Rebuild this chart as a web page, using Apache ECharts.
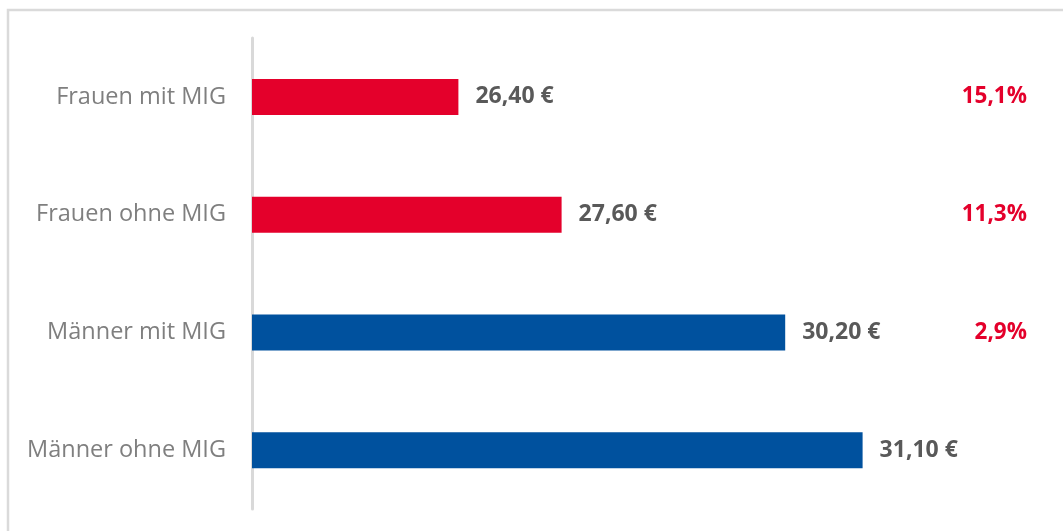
<!DOCTYPE html>
<html>
<head>
<meta charset="utf-8">
<script src="https://cdn.jsdelivr.net/npm/echarts@6/dist/echarts.min.js"></script>
<style>
  html, body { margin: 0; padding: 0; background: #fff; }
  #chart { width: 1063px; height: 531px; }
</style>
</head>
<body>
<div id="chart"></div>
<script>
// Stundenlohn nach Geschlecht und Migrationshintergrund
const categories = ['Frauen mit MIG', 'Frauen ohne MIG', 'Männer mit MIG', 'Männer ohne MIG']
const wages = [26.40, 27.60, 30.20, 31.10]
const gaps = ['15,1%', '11,3%', '2,9%', '']
const barColors = ['#e4002b', '#e4002b', '#00519e', '#00519e']

const chart = echarts.init(document.getElementById('chart'))

const fmtEuro = (v) => v.toFixed(2).replace('.', ',') + ' €'

chart.setOption({
  animation: false,
  textStyle: { fontFamily: '"Open Sans", sans-serif' },
  graphic: [{
    type: 'rect',
    shape: { x: 8, y: 10, width: 1100, height: 560 },
    style: { fill: 'none', stroke: '#dadada', lineWidth: 2.5 },
    silent: true,
  }],
  grid: { left: 252, right: 37, top: 38, bottom: 22 },
  xAxis: {
    type: 'value',
    min: 24,
    max: 33,
    show: false,
  },
  yAxis: [{
    type: 'category',
    data: categories,
    inverse: true,
    axisLine: { show: true, lineStyle: { color: '#d9d9d9', width: 3 } },
    axisTick: { show: false },
    axisLabel: { color: '#7f7f7f', fontSize: 23.5, margin: 26 },
  }, {
    type: 'category',
    data: gaps,
    inverse: true,
    position: 'right',
    axisLine: { show: false },
    axisTick: { show: false },
    axisLabel: { inside: true, margin: -1, color: '#e4002b', fontSize: 22.5, fontWeight: 'bold' },
  }],
  series: [{
    type: 'bar',
    barWidth: 36,
    data: wages.map((v, i) => ({ value: v, itemStyle: { color: barColors[i] } })),
    label: {
      show: true,
      position: 'right',
      distance: 17,
      color: '#595959',
      fontSize: 23,
      fontWeight: 'bold',
      formatter: (p) => fmtEuro(p.value),
    },
  }],
})
</script>
</body>
</html>
